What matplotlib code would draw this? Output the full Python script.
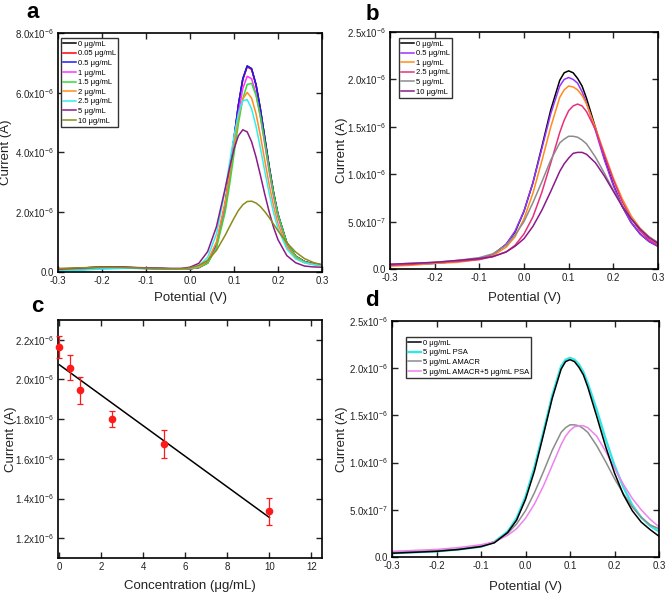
import matplotlib
matplotlib.use("Agg")
import matplotlib.pyplot as plt
import numpy as np

plt.rcParams['font.family'] = ['Liberation Sans', 'DejaVu Sans']
plt.rcParams['mathtext.fontset'] = 'custom'
plt.rcParams['mathtext.rm'] = 'Liberation Sans'

# ---- panel a : DPV curves, current in units of 1e-6 A ----
pot_a = [-0.30, -0.25, -0.20, -0.15, -0.10, -0.05, -0.02, 0.00, 0.02, 0.04, 0.06, 0.08, 0.09,
         0.10, 0.11, 0.12, 0.13, 0.14, 0.15, 0.16, 0.17, 0.18, 0.19, 0.20, 0.22, 0.24,
         0.26, 0.28, 0.30]
a_0 = [0.08, 0.13, 0.17, 0.16, 0.13, 0.11, 0.10, 0.11, 0.15, 0.31, 0.88, 2.27, 3.31, 4.47, 5.59,
       6.46, 6.89, 6.80, 6.27, 5.45, 4.49, 3.52, 2.65, 1.93, 0.97, 0.53, 0.35, 0.27, 0.24]
a_005 = [0.05, 0.10, 0.15, 0.15, 0.12, 0.10, 0.10, 0.11, 0.15, 0.31, 0.88, 2.26, 3.30, 4.46, 5.57,
         6.44, 6.87, 6.78, 6.26, 5.43, 4.47, 3.51, 2.64, 1.92, 0.97, 0.53, 0.35, 0.27, 0.24]
a_05 = [0.04, 0.08, 0.12, 0.13, 0.12, 0.10, 0.10, 0.11, 0.15, 0.31, 0.88, 2.27, 3.31, 4.48, 5.60,
        6.47, 6.90, 6.81, 6.28, 5.46, 4.49, 3.52, 2.65, 1.93, 0.98, 0.53, 0.35, 0.27, 0.24]
a_1 = [0.06, 0.10, 0.14, 0.15, 0.13, 0.11, 0.10, 0.11, 0.15, 0.30, 0.84, 2.16, 3.15, 4.25, 5.32,
       6.14, 6.55, 6.47, 5.96, 5.18, 4.27, 3.35, 2.52, 1.84, 0.93, 0.51, 0.34, 0.26, 0.23]
a_15 = [0.07, 0.11, 0.15, 0.14, 0.12, 0.11, 0.10, 0.11, 0.15, 0.29, 0.80, 2.01, 2.92, 3.95, 4.96,
        5.80, 6.28, 6.31, 5.91, 5.22, 4.35, 3.45, 2.62, 1.93, 0.98, 0.53, 0.34, 0.26, 0.23]
a_2 = [0.09, 0.13, 0.16, 0.15, 0.13, 0.11, 0.10, 0.12, 0.17, 0.37, 1.00, 2.36, 3.29, 4.28, 5.17,
       5.79, 6.01, 5.82, 5.30, 4.56, 3.73, 2.92, 2.21, 1.62, 0.84, 0.47, 0.31, 0.25, 0.22]
a_25 = [0.03, 0.06, 0.10, 0.12, 0.12, 0.11, 0.11, 0.13, 0.20, 0.49, 1.27, 2.74, 3.66, 4.55, 5.29,
        5.73, 5.77, 5.46, 4.88, 4.15, 3.37, 2.63, 1.98, 1.45, 0.77, 0.44, 0.31, 0.25, 0.22]
a_5 = [0.10, 0.13, 0.17, 0.16, 0.14, 0.12, 0.12, 0.16, 0.29, 0.68, 1.51, 2.80, 3.49, 4.12, 4.56,
       4.76, 4.69, 4.36, 3.85, 3.24, 2.60, 2.01, 1.49, 1.08, 0.55, 0.31, 0.20, 0.17, 0.16]
a_10 = [0.12, 0.14, 0.16, 0.15, 0.13, 0.11, 0.11, 0.14, 0.22, 0.39, 0.72, 1.23, 1.52, 1.80, 2.06,
        2.25, 2.36, 2.37, 2.31, 2.19, 2.02, 1.82, 1.60, 1.38, 0.98, 0.67, 0.45, 0.32, 0.24]
labels_a = ['0 μg/mL', '0.05 μg/mL', '0.5 μg/mL', '1 μg/mL', '1.5 μg/mL', '2 μg/mL',
            '2.5 μg/mL', '5 μg/mL', '10 μg/mL']
colors_a = ['#000000', '#ff0000', '#1a1aff', '#ff33ff', '#33dd33', '#ff8c1a', '#33eeee',
            '#8b1a8b', '#8b8b1a']

# ---- panels b and d share one potential grid ----
pot_b = [-0.30, -0.25, -0.20, -0.15, -0.10, -0.07, -0.04, -0.02, 0.00, 0.02, 0.04, 0.06,
         0.08, 0.09, 0.10, 0.11, 0.12, 0.13, 0.14, 0.16, 0.18, 0.20, 0.22, 0.24, 0.26,
         0.28, 0.30]
b_0 = [0.04, 0.05, 0.06, 0.08, 0.11, 0.15, 0.26, 0.39, 0.61, 0.91, 1.29, 1.68, 1.99, 2.07,
       2.09, 2.07, 2.01, 1.93, 1.80, 1.49, 1.17, 0.89, 0.66, 0.49, 0.37, 0.29, 0.24]
b_05 = [0.04, 0.05, 0.06, 0.08, 0.11, 0.15, 0.26, 0.40, 0.61, 0.91, 1.27, 1.64, 1.93, 2.00,
        2.02, 2.00, 1.96, 1.87, 1.75, 1.46, 1.15, 0.88, 0.66, 0.49, 0.37, 0.29, 0.24]
b_1 = [0.03, 0.04, 0.06, 0.07, 0.10, 0.14, 0.23, 0.34, 0.53, 0.80, 1.14, 1.50, 1.81, 1.89,
       1.93, 1.92, 1.89, 1.83, 1.74, 1.49, 1.22, 0.96, 0.74, 0.56, 0.43, 0.34, 0.27]
b_25 = [0.04, 0.05, 0.07, 0.08, 0.10, 0.13, 0.18, 0.25, 0.37, 0.55, 0.81, 1.12, 1.44, 1.57,
        1.67, 1.72, 1.74, 1.72, 1.66, 1.47, 1.20, 0.94, 0.71, 0.53, 0.40, 0.31, 0.25]
b_5 = [0.05, 0.06, 0.07, 0.09, 0.12, 0.16, 0.25, 0.36, 0.50, 0.70, 0.92, 1.15, 1.33, 1.37,
       1.40, 1.40, 1.39, 1.36, 1.32, 1.18, 1.01, 0.83, 0.67, 0.53, 0.42, 0.34, 0.28]
b_10 = [0.05, 0.06, 0.07, 0.09, 0.11, 0.13, 0.18, 0.24, 0.32, 0.45, 0.62, 0.82, 1.03, 1.11,
        1.17, 1.22, 1.23, 1.23, 1.21, 1.12, 0.98, 0.82, 0.66, 0.53, 0.42, 0.33, 0.27]
labels_b = ['0 μg/mL', '0.5 μg/mL', '1 μg/mL', '2.5 μg/mL', '5 μg/mL', '10 μg/mL']
colors_b = ['#000000', '#9933ff', '#ff8c1a', '#e8307a', '#8c8c8c', '#8b1a8b']

d_0 = [0.04, 0.05, 0.06, 0.08, 0.11, 0.15, 0.26, 0.39, 0.61, 0.91, 1.29, 1.68, 1.99, 2.07,
       2.09, 2.07, 2.01, 1.93, 1.80, 1.49, 1.17, 0.89, 0.66, 0.49, 0.37, 0.29, 0.22]
d_psa = [0.04, 0.05, 0.06, 0.08, 0.11, 0.16, 0.27, 0.41, 0.64, 0.95, 1.32, 1.71, 2.02, 2.09,
         2.11, 2.09, 2.04, 1.96, 1.84, 1.56, 1.25, 0.97, 0.74, 0.55, 0.42, 0.33, 0.27]
d_amacr = [0.05, 0.06, 0.07, 0.08, 0.12, 0.16, 0.25, 0.35, 0.49, 0.68, 0.90, 1.13, 1.32, 1.37,
           1.40, 1.40, 1.39, 1.36, 1.32, 1.18, 1.01, 0.83, 0.67, 0.53, 0.42, 0.34, 0.30]
d_both = [0.06, 0.07, 0.08, 0.10, 0.13, 0.16, 0.23, 0.30, 0.41, 0.56, 0.75, 0.97, 1.19, 1.28,
          1.34, 1.38, 1.39, 1.39, 1.37, 1.28, 1.12, 0.94, 0.77, 0.62, 0.50, 0.40, 0.32]
labels_d = ['0 μg/mL', '5 μg/mL PSA', '5 μg/mL AMACR', '5 μg/mL AMACR+5 μg/mL PSA']
colors_d = ['#000000', '#33e6e6', '#8c8c8c', '#ee82ee']

# ---- panel c : calibration ----
conc = [0, 0.5, 1, 2.5, 5, 10]
peak_cur = [2.165, 2.06, 1.945, 1.80, 1.675, 1.335]
peak_err = [0.055, 0.065, 0.068, 0.04, 0.07, 0.07]

W, H = 666, 593
fig = plt.figure(figsize=(W / 100, H / 100), dpi=100)


def box(l, t, r, b):
    # pixel box -> figure fraction
    return [l / W, 1 - b / H, (r - l) / W, (b - t) / H]


def style(ax):
    ax.tick_params(direction='in', top=True, right=True, length=4, width=1,
                   labelsize=7, colors='#222222', pad=3)
    for s in ax.spines.values():
        s.set_linewidth(1.2)


def sci(vals, exps):
    return ['0.0' if v == 0 else '%.1fx10$^{%d}$' % (v, e) for v, e in zip(vals, exps)]


axa = fig.add_axes(box(58, 33, 322, 272))
axb = fig.add_axes(box(390, 32, 658, 269))
axc = fig.add_axes(box(58, 320, 322, 558))
axd = fig.add_axes(box(392, 321, 659, 557))

for y, c, l in zip([a_0, a_005, a_05, a_1, a_15, a_2, a_25, a_5, a_10], colors_a, labels_a):
    axa.plot(pot_a, y, color=c, lw=1.1, label=l)
axa.set_ylim(0, 8)
axa.set_yticks([0, 2, 4, 6, 8])
axa.set_yticklabels(sci([0, 2.0, 4.0, 6.0, 8.0], [0, -6, -6, -6, -6]))

for y, c, l in zip([b_0, b_05, b_1, b_25, b_5, b_10], colors_b, labels_b):
    axb.plot(pot_b, y, color=c, lw=1.1, label=l)
for y, c, l in zip([d_0, d_psa, d_amacr, d_both], colors_d, labels_d):
    axd.plot(pot_b, y, color=c, lw=1.7 if c == '#33e6e6' else 1.1, label=l)
# keep the black curve on top of the cyan one
axd.lines[0].set_zorder(3)
for ax in (axb, axd):
    ax.set_ylim(0, 2.5)
    ax.set_yticks([0, 0.5, 1.0, 1.5, 2.0, 2.5])
    ax.set_yticklabels(sci([0, 5.0, 1.0, 1.5, 2.0, 2.5], [0, -7, -6, -6, -6, -6]))

for ax in (axa, axb, axd):
    ax.set_xlim(-0.3, 0.3)
    ax.set_xticks([-0.3, -0.2, -0.1, 0.0, 0.1, 0.2, 0.3])
    ax.set_xticklabels(['-0.3', '-0.2', '-0.1', '0.0', '0.1', '0.2', '0.3'])
    ax.set_xlabel('Potential (V)', fontsize=9.5, color='#222222')
    ax.set_ylabel('Current (A)', fontsize=9.5, color='#222222')
    style(ax)

k = np.polyfit(conc, peak_cur, 1)
axc.plot([0, 10], np.polyval(k, [0, 10]), color='black', lw=1.1)
axc.errorbar(conc, peak_cur, yerr=peak_err, fmt='o', color='#ff1a1a', ms=4.5, capsize=2,
             elinewidth=0.9, capthick=0.9, clip_on=False, zorder=3)
axc.set_xlim(-0.07, 12.5)
axc.set_ylim(1.1, 2.3)
axc.set_xticks([0, 2, 4, 6, 8, 10, 12])
axc.set_yticks([1.2, 1.4, 1.6, 1.8, 2.0, 2.2])
axc.set_yticklabels(sci([1.2, 1.4, 1.6, 1.8, 2.0, 2.2], [-6] * 6))
axc.set_xlabel('Concentration (μg/mL)', fontsize=9.5, color='#222222')
axc.set_ylabel('Current (A)', fontsize=9.5, color='#222222')
style(axc)

axa.yaxis.set_label_coords(-0.175, 0.5)
axb.yaxis.set_label_coords(-0.157, 0.5)
axc.yaxis.set_label_coords(-0.155, 0.5)
axd.yaxis.set_label_coords(-0.165, 0.5)
axa.xaxis.set_label_coords(0.5, -0.085)
axb.xaxis.set_label_coords(0.5, -0.095)
axc.xaxis.set_label_coords(0.5, -0.092)
axd.xaxis.set_label_coords(0.5, -0.1)

leg_kw = dict(loc='upper left', fontsize=5.5, fancybox=False, edgecolor='#333333',
              handlelength=1.7, handletextpad=0.2, labelspacing=0.3, borderpad=0.3,
              borderaxespad=0, framealpha=1)
axa.legend(bbox_to_anchor=(0.011, 0.979), **leg_kw)
axb.legend(bbox_to_anchor=(0.034, 0.975), **leg_kw)
axd.legend(bbox_to_anchor=(0.052, 0.932), **leg_kw)

for t, x, y in [('a', 33, 13), ('b', 372, 14), ('c', 37, 306), ('d', 372, 300)]:
    fig.text(x / W, 1 - y / H, t, fontsize=16, fontweight='bold', ha='center', va='center')

fig.savefig('out.png')
